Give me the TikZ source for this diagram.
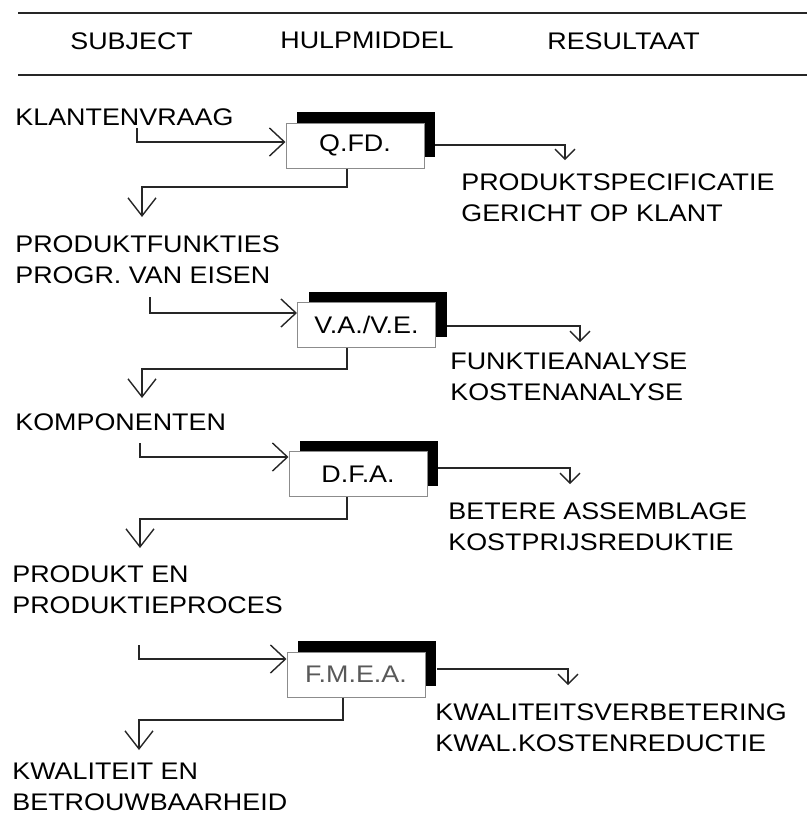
\documentclass[tikz,border=0pt]{standalone}
\usepackage{fontspec}
\setmainfont{Liberation Sans}[FakeStretch=1.12]
\usetikzlibrary{arrows.meta, shadows}
\tikzset{
	every node/.style={font=\fontsize{12}{15.5}\selectfont, inner sep=0pt}, % Letra de todos los textos
	tekst/.style={anchor=north west, align=left}, % Textos alineados a la izquierda
	middel/.style={draw=black!45, line width=0.5pt, fill=white,
		minimum width=69pt, minimum height=22.5pt,
		drop shadow={shadow xshift=5.5pt, shadow yshift=5.5pt, fill=black, opacity=1}}, % Caja con sombra negra
	lijn/.style={draw=black!85, line width=0.7pt}, % Lineas de conexion
	invoer/.style={lijn, -{Straight Barb[length=7.5pt, width=14pt]}}, % Entrada a la caja
	uitvoer/.style={lijn, -{Straight Barb[length=5pt, width=10pt]}}, % Salida hacia el resultado
	terug/.style={lijn, -{Straight Barb[length=9pt, width=14pt]}}, % Vuelta al sujeto
	regel/.style={draw=black!85, line width=1.1pt} % Lineas de la cabecera
}

\begin{document}
\begin{tikzpicture}[x=0.5pt, y=-0.5pt]
	\useasboundingbox (0,0) rectangle (807,816);

	\draw[regel] (18,13) -- (807,13);
	\draw[regel] (18,75) -- (807,75);
	\node[tekst] (k1) at (70,32) {SUBJECT};
	\node[tekst] (k2) at (280,32) {HULPMIDDEL};
	\node[tekst] (k3) at (547,32) {RESULTAAT};

	\node[tekst] (s1) at (15,108) {KLANTENVRAAG};
	\node[tekst] (s2) at (15,235) {PRODUKTFUNKTIES\\PROGR. VAN EISEN};
	\node[tekst] (s3) at (15,413) {KOMPONENTEN};
	\node[tekst] (s4) at (12,565) {PRODUKT EN\\PRODUKTIEPROCES};
	\node[tekst] (s5) at (12,763) {KWALITEIT EN\\BETROUWBAARHEID};

	\node[middel] (h1) at (355,145.5) {Q.FD.};
	\node[middel] (h2) at (366.5,325) {V.A./V.E.};
	\node[middel] (h3) at (358,474) {D.F.A.};
	\node[middel, text=black!65] (h4) at (356,674.5) {F.M.E.A.};

	\node[tekst] (r1) at (461,173) {PRODUKTSPECIFICATIE\\GERICHT OP KLANT};
	\node[tekst] (r2) at (450,352) {FUNKTIEANALYSE\\KOSTENANALYSE};
	\node[tekst] (r3) at (448,502) {BETERE ASSEMBLAGE\\KOSTPRIJSREDUKTIE};
	\node[tekst] (r4) at (435,703) {KWALITEITSVERBETERING\\KWAL.KOSTENREDUCTIE};

	\coordinate (a1) at (137,128);
	\coordinate (b1) at (137,142);
	\coordinate (u1) at (435,145);
	\coordinate (v1) at (565,160);
	\coordinate (d1) at (347,187);
	\coordinate (e1) at (142,217);

	\coordinate (a2) at (150,297);
	\coordinate (b2) at (150,313);
	\coordinate (u2) at (447,326);
	\coordinate (v2) at (580,342);
	\coordinate (d2) at (347,369);
	\coordinate (e2) at (142,398);

	\coordinate (a3) at (140,443);
	\coordinate (b3) at (140,457);
	\coordinate (u3) at (438,468);
	\coordinate (v3) at (570,484);
	\coordinate (d3) at (347,519);
	\coordinate (e3) at (140,548);

	\coordinate (a4) at (139,645);
	\coordinate (b4) at (139,659);
	\coordinate (u4) at (437,669);
	\coordinate (v4) at (568,685);
	\coordinate (d4) at (343,720);
	\coordinate (e4) at (139,750);

	\draw[invoer] (a1) -- (b1) -- (b1 -| h1.west);
	\draw[uitvoer] (u1) -| (v1);
	\draw[terug] (d1 |- h1.south) -- (d1) -| (e1);

	\draw[invoer] (a2) -- (b2) -- (b2 -| h2.west);
	\draw[uitvoer] (u2) -| (v2);
	\draw[terug] (d2 |- h2.south) -- (d2) -| (e2);

	\draw[invoer] (a3) -- (b3) -- (b3 -| h3.west);
	\draw[uitvoer] (u3) -| (v3);
	\draw[terug] (d3 |- h3.south) -- (d3) -| (e3);

	\draw[invoer] (a4) -- (b4) -- (b4 -| h4.west);
	\draw[uitvoer] (u4) -| (v4);
	\draw[terug] (d4 |- h4.south) -- (d4) -| (e4);
\end{tikzpicture}
\end{document}
